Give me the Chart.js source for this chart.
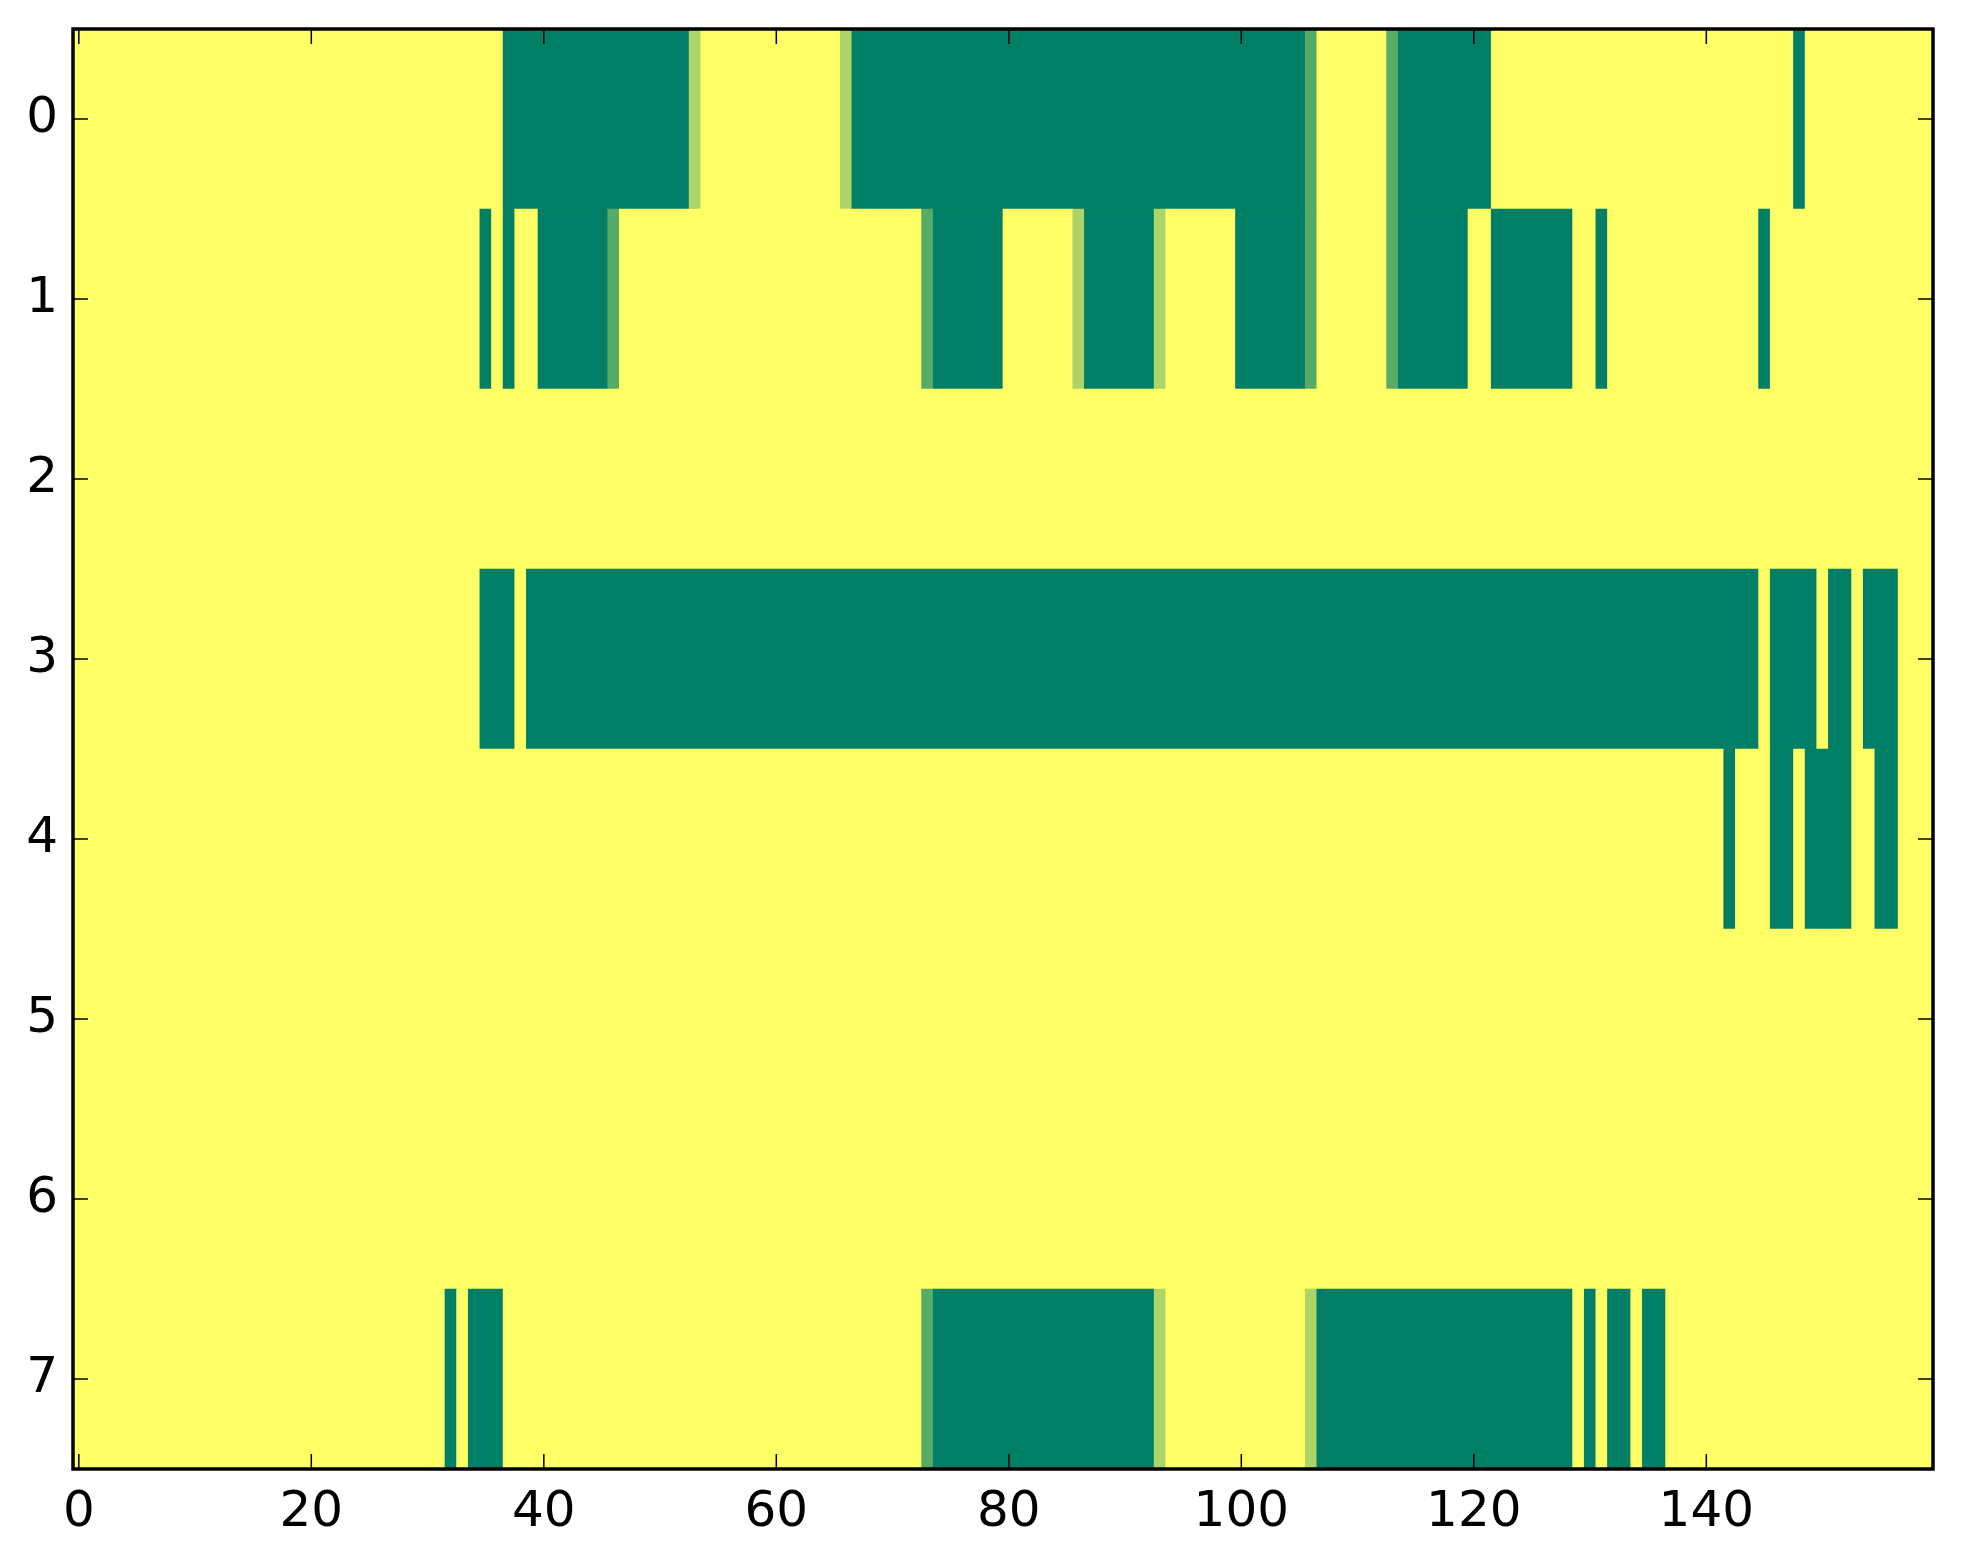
<!DOCTYPE html>
<html>
<head>
<meta charset="utf-8">
<title>Heatmap</title>
<script src="https://cdn.jsdelivr.net/npm/chart.js@4.4.1/dist/chart.umd.min.js"></script>
<style>
  html, body { margin: 0; padding: 0; background: #ffffff; }
  #wrap { width: 1963px; height: 1564px; }
</style>
</head>
<body>
<div id="wrap"><canvas id="heatmap" width="1963" height="1564"></canvas></div>
<script>
// rows of the image, one digit per column (0 = lowest ... 3 = highest), grouped by ten columns
const row0 = '3333333333 3333333333 3333333333 3333333000 0000000000 0002333333 3333332000 0000000000 0000000000 0000000000 0000001333 3331000000 0033333333 3333333333 3333333303 3333333333';
const row1 = '3333333333 3333333333 3333333333 3333303033 0000001333 3333333333 3333333333 3331000000 3333332000 0002333333 0000001333 3331000000 3300000003 3033333333 3333303333 3333333333';
const row2 = '3333333333 3333333333 3333333333 3333333333 3333333333 3333333333 3333333333 3333333333 3333333333 3333333333 3333333333 3333333333 3333333333 3333333333 3333333333 3333333333';
const row3 = '3333333333 3333333333 3333333333 3333300030 0000000000 0000000000 0000000000 0000000000 0000000000 0000000000 0000000000 0000000000 0000000000 0000000000 0000030000 3003000333';
const row4 = '3333333333 3333333333 3333333333 3333333333 3333333333 3333333333 3333333333 3333333333 3333333333 3333333333 3333333333 3333333333 3333333333 3333333333 3303330030 0003300333';
const row5 = '3333333333 3333333333 3333333333 3333333333 3333333333 3333333333 3333333333 3333333333 3333333333 3333333333 3333333333 3333333333 3333333333 3333333333 3333333333 3333333333';
const row6 = '3333333333 3333333333 3333333333 3333333333 3333333333 3333333333 3333333333 3333333333 3333333333 3333333333 3333333333 3333333333 3333333333 3333333333 3333333333 3333333333';
const row7 = '3333333333 3333333333 3333333333 3303000333 3333333333 3333333333 3333333333 3331000000 0000000000 0002333333 3333332000 0000000000 0000000003 0300300333 3333333333 3333333333';

const rows = [row0, row1, row2, row3, row4, row5, row6, row7];
const xTicks = [0, 20, 40, 60, 80, 100, 120, 140];
const yTicks = [0, 1, 2, 3, 4, 5, 6, 7];

// 'summer' colormap at 0, 1/3, 2/3, 1
const levelColors = ['#007f66', '#57ab66', '#acd466', '#ffff66'];

// merge equal neighbours of a row into one floating bar
function buildCells() {
    const cells = [];
    rows.forEach((row, r) => {
        const vals = row.replace(/\s/g, '').split('').map(Number);
        let start = 0;
        for (let c = 1; c <= vals.length; c++) {
            if (c === vals.length || vals[c] !== vals[start]) {
                cells.push({ x: [start - 0.5, c - 0.5], y: r, level: vals[start] });
                start = c;
            }
        }
    });
    return cells;
}

const nCols = rows[0].replace(/\s/g, '').length;

const framePlugin = {
    id: 'frame',
    beforeDatasetsDraw(chart) {
        const { ctx, chartArea: a } = chart;
        ctx.save();
        ctx.fillStyle = levelColors[3];
        ctx.fillRect(a.left, a.top, a.width, a.height);
        ctx.restore();
    },
    afterDraw(chart) {
        const { ctx, chartArea: a, scales: { x, y } } = chart;
        const len = 15;
        ctx.save();
        ctx.strokeStyle = '#000';
        ctx.lineWidth = 1.5;
        ctx.beginPath();
        x.ticks.forEach(t => {
            const px = x.getPixelForValue(t.value);
            ctx.moveTo(px, a.bottom); ctx.lineTo(px, a.bottom - len);
            ctx.moveTo(px, a.top); ctx.lineTo(px, a.top + len);
        });
        y.ticks.forEach(t => {
            const py = y.getPixelForValue(t.value);
            ctx.moveTo(a.left, py); ctx.lineTo(a.left + len, py);
            ctx.moveTo(a.right, py); ctx.lineTo(a.right - len, py);
        });
        ctx.stroke();
        ctx.lineWidth = 3.5;
        ctx.strokeRect(a.left, a.top, a.width, a.height);
        ctx.restore();
    }
};

const tickFont = { family: 'DejaVu Sans', size: 50 };

new Chart(document.getElementById('heatmap'), {
    type: 'bar',
    data: {
        datasets: [{
            data: buildCells(),
            backgroundColor: c => levelColors[c.raw.level],
            borderWidth: 0,
            barPercentage: 1,
            categoryPercentage: 1
        }]
    },
    options: {
        indexAxis: 'y',
        responsive: false,
        animation: false,
        devicePixelRatio: 1,
        layout: { padding: { top: 29, right: 30, left: 0, bottom: 0 } },
        plugins: {
            legend: { display: false },
            tooltip: { enabled: false }
        },
        scales: {
            x: {
                type: 'linear',
                offset: false,
                min: -0.5,
                max: nCols - 0.5,
                grid: { display: false, drawTicks: false },
                border: { display: false },
                afterBuildTicks: s => { s.ticks = xTicks.map(v => ({ value: v })); },
                afterFit: s => { s.height = 95; s.paddingLeft = 0; s.paddingRight = 0; },
                ticks: { font: tickFont, color: '#000', padding: 14, maxRotation: 0 }
            },
            y: {
                type: 'linear',
                offset: false,
                reverse: true,
                min: -0.5,
                max: rows.length - 0.5,
                grid: { display: false, drawTicks: false },
                border: { display: false },
                afterBuildTicks: s => { s.ticks = yTicks.map(v => ({ value: v })); },
                afterFit: s => { s.width = 73; s.paddingTop = 0; s.paddingBottom = 0; },
                ticks: { font: tickFont, color: '#000', padding: 15 }
            }
        }
    },
    plugins: [framePlugin]
});
</script>
</body>
</html>
